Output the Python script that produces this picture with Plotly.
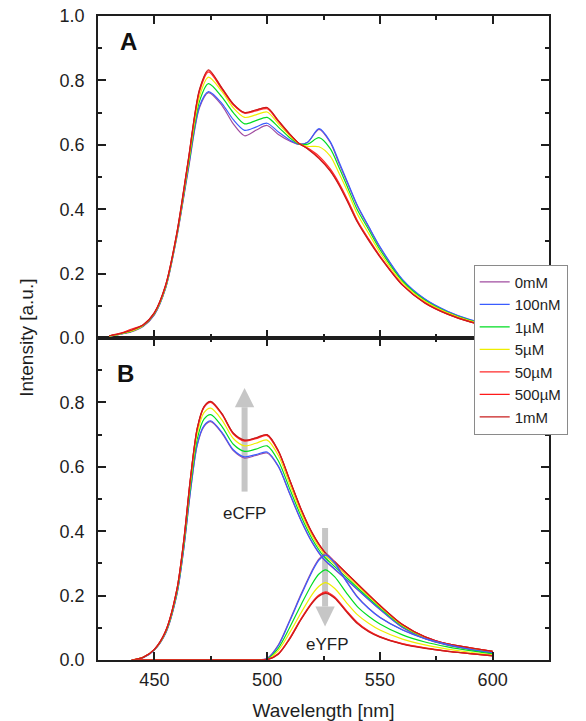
import plotly.graph_objects as go

# ---------------- data ----------------
series_names = ["0mM", "100nM", "1µM", "5µM", "50µM", "500µM", "1mM"]
series_colors = ["#a04ca0", "#3a5cff", "#00dd22", "#eeee00", "#ff2a2a", "#ff1a1a", "#c81e1e"]

# Panel A: measured spectra
wl_a = [430, 435, 440, 445, 450, 455, 460, 465, 470, 474, 480, 485, 490, 495, 500,
        505, 510, 514, 518, 523, 528, 532, 536, 540, 545, 550, 560, 570, 580, 590, 600]
a_0mM = [0.005, 0.012, 0.020, 0.036, 0.072, 0.155, 0.315, 0.520, 0.715, 0.762, 0.722, 0.665, 0.628, 0.645, 0.660,
         0.632, 0.612, 0.602, 0.608, 0.648, 0.607, 0.540, 0.475, 0.410, 0.345, 0.282, 0.180, 0.120, 0.082, 0.056, 0.040]
a_100nM = [0.006, 0.012, 0.021, 0.037, 0.073, 0.156, 0.317, 0.525, 0.720, 0.765, 0.728, 0.678, 0.645, 0.655, 0.667,
           0.640, 0.615, 0.602, 0.608, 0.650, 0.610, 0.545, 0.478, 0.412, 0.347, 0.284, 0.182, 0.121, 0.083, 0.057, 0.041]
a_1uM = [0.006, 0.013, 0.021, 0.038, 0.075, 0.158, 0.320, 0.532, 0.735, 0.790, 0.748, 0.700, 0.665, 0.675, 0.685,
         0.655, 0.622, 0.603, 0.602, 0.622, 0.588, 0.528, 0.463, 0.398, 0.337, 0.275, 0.177, 0.117, 0.080, 0.055, 0.039]
a_5uM = [0.006, 0.013, 0.022, 0.039, 0.076, 0.160, 0.322, 0.540, 0.750, 0.810, 0.765, 0.715, 0.685, 0.693, 0.702,
         0.665, 0.628, 0.604, 0.595, 0.594, 0.565, 0.510, 0.450, 0.385, 0.325, 0.266, 0.172, 0.114, 0.078, 0.053, 0.038]
a_50uM = [0.007, 0.014, 0.024, 0.040, 0.078, 0.163, 0.325, 0.548, 0.765, 0.826, 0.772, 0.724, 0.698, 0.705, 0.712,
          0.672, 0.632, 0.605, 0.590, 0.565, 0.525, 0.480, 0.425, 0.365, 0.308, 0.255, 0.166, 0.110, 0.075, 0.051, 0.036]
a_500uM = [0.007, 0.015, 0.028, 0.040, 0.078, 0.164, 0.327, 0.550, 0.770, 0.830, 0.775, 0.726, 0.700, 0.708, 0.715,
           0.674, 0.633, 0.605, 0.588, 0.560, 0.520, 0.476, 0.420, 0.362, 0.305, 0.253, 0.165, 0.109, 0.074, 0.050, 0.036]
a_1mM = [0.007, 0.014, 0.025, 0.041, 0.079, 0.165, 0.328, 0.552, 0.772, 0.833, 0.776, 0.727, 0.700, 0.708, 0.716,
         0.675, 0.634, 0.605, 0.587, 0.557, 0.518, 0.473, 0.418, 0.360, 0.303, 0.252, 0.164, 0.108, 0.074, 0.050, 0.035]

# Panel B: eCFP component
wl_c = [440, 445, 450, 455, 460, 463, 466, 469, 472, 475, 480, 485, 490, 495, 500,
        505, 510, 515, 520, 525, 530, 540, 550, 560, 570, 580, 590, 600]
c_0mM = [0.0, 0.007, 0.031, 0.083, 0.204, 0.343, 0.523, 0.667, 0.725, 0.740, 0.704, 0.650, 0.627, 0.635, 0.643,
         0.600, 0.516, 0.433, 0.364, 0.313, 0.281, 0.219, 0.157, 0.101, 0.066, 0.046, 0.034, 0.024]
c_100nM = [0.0, 0.007, 0.031, 0.084, 0.205, 0.345, 0.525, 0.670, 0.728, 0.743, 0.707, 0.653, 0.631, 0.638, 0.646,
           0.602, 0.518, 0.435, 0.366, 0.315, 0.283, 0.220, 0.158, 0.102, 0.067, 0.047, 0.035, 0.025]
c_1uM = [0.0, 0.008, 0.032, 0.086, 0.210, 0.353, 0.538, 0.686, 0.748, 0.762, 0.725, 0.670, 0.648, 0.655, 0.665,
         0.618, 0.532, 0.447, 0.376, 0.323, 0.290, 0.225, 0.162, 0.105, 0.069, 0.048, 0.036, 0.026]
c_5uM = [0.0, 0.008, 0.032, 0.088, 0.215, 0.362, 0.552, 0.703, 0.768, 0.782, 0.745, 0.688, 0.665, 0.673, 0.683,
         0.635, 0.546, 0.458, 0.385, 0.331, 0.297, 0.231, 0.166, 0.107, 0.070, 0.049, 0.037, 0.026]
c_50uM = [0.0, 0.008, 0.033, 0.090, 0.219, 0.368, 0.563, 0.717, 0.784, 0.800, 0.762, 0.702, 0.680, 0.687, 0.697,
          0.647, 0.558, 0.468, 0.393, 0.339, 0.304, 0.236, 0.169, 0.110, 0.072, 0.050, 0.038, 0.027]
c_500uM = [0.0, 0.008, 0.033, 0.090, 0.220, 0.369, 0.564, 0.719, 0.786, 0.802, 0.764, 0.704, 0.682, 0.689, 0.699,
           0.649, 0.559, 0.469, 0.394, 0.340, 0.305, 0.237, 0.170, 0.110, 0.072, 0.050, 0.038, 0.027]
c_1mM = [0.0, 0.008, 0.033, 0.090, 0.220, 0.370, 0.565, 0.720, 0.787, 0.803, 0.765, 0.705, 0.683, 0.690, 0.700,
         0.650, 0.560, 0.470, 0.395, 0.340, 0.305, 0.237, 0.170, 0.110, 0.072, 0.050, 0.038, 0.027]

# Panel B: eYFP component
wl_y = [440, 480, 495, 500, 505, 510, 515, 520, 523, 526, 530, 535, 540, 545, 550, 560, 570, 580, 590, 600]
y_0mM = [0, 0, 0, 0.005, 0.047, 0.123, 0.204, 0.279, 0.314, 0.330, 0.303, 0.247, 0.197, 0.161, 0.133, 0.094, 0.067, 0.048, 0.033, 0.022]
y_100nM = [0, 0, 0, 0.004, 0.045, 0.120, 0.200, 0.275, 0.310, 0.326, 0.300, 0.245, 0.195, 0.160, 0.132, 0.093, 0.066, 0.048, 0.033, 0.022]
y_1uM = [0, 0, 0, 0.003, 0.037, 0.101, 0.171, 0.237, 0.267, 0.280, 0.258, 0.210, 0.166, 0.136, 0.112, 0.078, 0.056, 0.041, 0.029, 0.019]
y_5uM = [0, 0, 0, 0.002, 0.030, 0.085, 0.146, 0.204, 0.229, 0.240, 0.222, 0.180, 0.141, 0.114, 0.093, 0.065, 0.047, 0.034, 0.024, 0.016]
y_50uM = [0, 0, 0, 0.001, 0.020, 0.068, 0.128, 0.180, 0.202, 0.212, 0.196, 0.155, 0.117, 0.091, 0.073, 0.051, 0.038, 0.028, 0.020, 0.014]
y_500uM = [0, 0, 0, 0.001, 0.019, 0.066, 0.126, 0.178, 0.200, 0.209, 0.193, 0.153, 0.115, 0.089, 0.072, 0.050, 0.037, 0.027, 0.020, 0.013]
y_1mM = [0, 0, 0, 0.001, 0.018, 0.065, 0.125, 0.177, 0.198, 0.207, 0.192, 0.151, 0.113, 0.088, 0.071, 0.049, 0.036, 0.027, 0.020, 0.013]

panel_a = [a_0mM, a_100nM, a_1uM, a_5uM, a_50uM, a_500uM, a_1mM]
panel_b_cfp = [c_0mM, c_100nM, c_1uM, c_5uM, c_50uM, c_500uM, c_1mM]
panel_b_yfp = [y_0mM, y_100nM, y_1uM, y_5uM, y_50uM, y_500uM, y_1mM]

x_ticks = [450, 500, 550, 600]
y_ticks_a = [0.0, 0.2, 0.4, 0.6, 0.8, 1.0]
y_ticks_b = [0.0, 0.2, 0.4, 0.6, 0.8]

# ---------------- figure ----------------
FONT = "Liberation Sans, Arial, sans-serif"
INK = "#1e1e1e"
LW = 1.2

fig = go.Figure()
for name, col, ya in zip(series_names, series_colors, panel_a):
    fig.add_trace(go.Scatter(x=wl_a, y=ya, mode="lines", name=name, legendgroup=name,
                             line=dict(color=col, width=LW, shape="spline", smoothing=0.8),
                             xaxis="x2", yaxis="y2", showlegend=True))
for name, col, yc in zip(series_names, series_colors, panel_b_cfp):
    fig.add_trace(go.Scatter(x=wl_c, y=yc, mode="lines", name=name, legendgroup=name,
                             line=dict(color=col, width=LW, shape="spline", smoothing=0.8),
                             xaxis="x", yaxis="y", showlegend=False))
for name, col, yy in zip(series_names, series_colors, panel_b_yfp):
    fig.add_trace(go.Scatter(x=wl_y, y=yy, mode="lines", name=name, legendgroup=name,
                             line=dict(color=col, width=LW, shape="spline", smoothing=0.8),
                             xaxis="x", yaxis="y", showlegend=False))

axis_common = dict(showline=True, linecolor=INK, linewidth=1.6, mirror="allticks",
                   ticks="inside", ticklen=8, tickwidth=1.5, tickcolor=INK,
                   showgrid=False, zeroline=False, automargin=False,
                   tickfont=dict(family=FONT, size=18, color=INK))

fig.update_layout(
    width=586, height=721,
    margin=dict(l=98, r=37, t=16, b=61),
    paper_bgcolor="white", plot_bgcolor="white",
    font=dict(family=FONT, color=INK),
    xaxis=dict(domain=[0, 1], range=[425, 625], anchor="y", tickvals=x_ticks,
               minor=dict(tickvals=[475, 525, 575], ticks="inside", ticklen=4, tickwidth=1.5, tickcolor=INK),
               title=dict(text="Wavelength [nm]", font=dict(family=FONT, size=19, color=INK), standoff=17),
               ticklabelstandoff=3, **axis_common),
    yaxis=dict(domain=[0, 0.5], range=[0, 1], anchor="x", tickvals=y_ticks_b, tickformat=".1f",
               minor=dict(tickvals=[0.1, 0.3, 0.5, 0.7, 0.9], ticks="inside", ticklen=4, tickwidth=1.5, tickcolor=INK),
               ticklabelstandoff=8, **axis_common),
    xaxis2=dict(domain=[0, 1], range=[425, 625], anchor="y2", matches="x", tickvals=x_ticks,
                showticklabels=False,
                minor=dict(tickvals=[475, 525, 575], ticks="inside", ticklen=4, tickwidth=1.5, tickcolor=INK),
                **axis_common),
    yaxis2=dict(domain=[0.5, 1], range=[0, 1], anchor="x2", tickvals=y_ticks_a, tickformat=".1f",
                minor=dict(tickvals=[0.1, 0.3, 0.5, 0.7, 0.9], ticks="inside", ticklen=4, tickwidth=1.5, tickcolor=INK),
                ticklabelstandoff=8, **axis_common),
    legend=dict(x=0.833, xanchor="left", y=0.614, yanchor="top",
                bgcolor="white", bordercolor="#8a8a8a", borderwidth=1,
                font=dict(family=FONT, size=15, color=INK), tracegroupgap=0),
    showlegend=True,
)

# y-axis title shared by both panels
fig.add_annotation(text="Intensity [a.u.]", xref="paper", yref="paper", x=-0.16, y=0.5,
                   textangle=-90, showarrow=False, xanchor="center", yanchor="middle",
                   font=dict(family=FONT, size=19, color=INK))
# panel letters
fig.add_annotation(text="<b>A</b>", xref="x2 domain", yref="y2 domain", x=0.067, y=0.921,
                   showarrow=False, xanchor="center", yanchor="middle",
                   font=dict(family=FONT, size=24, color="#111"))
fig.add_annotation(text="<b>B</b>", xref="x domain", yref="y domain", x=0.062, y=0.891,
                   showarrow=False, xanchor="center", yanchor="middle",
                   font=dict(family=FONT, size=24, color="#111"))
# labels
fig.add_annotation(text="eCFP", xref="x", yref="y", x=490, y=0.454, showarrow=False,
                   font=dict(family=FONT, size=17, color=INK))
fig.add_annotation(text="eYFP", xref="x", yref="y", x=526.6, y=0.047, showarrow=False,
                   font=dict(family=FONT, size=17, color=INK))

# gray arrows (drawn below the curves)
ARROW = "#c6c6c6"
cfp_x, cfp_tail, cfp_base, cfp_tip = 490, 0.523, 0.785, 0.845
yfp_x, yfp_tail, yfp_base, yfp_tip = 525.7, 0.41, 0.166, 0.104
half_w = 4.3
fig.add_shape(type="line", xref="x", yref="y", x0=cfp_x, x1=cfp_x, y0=cfp_tail, y1=cfp_base,
              line=dict(color=ARROW, width=6), layer="below")
fig.add_shape(type="path", xref="x", yref="y", layer="below", fillcolor=ARROW, line=dict(width=0),
              path=f"M {cfp_x-half_w} {cfp_base} L {cfp_x+half_w} {cfp_base} L {cfp_x} {cfp_tip} Z")
fig.add_shape(type="line", xref="x", yref="y", x0=yfp_x, x1=yfp_x, y0=yfp_tail, y1=yfp_base,
              line=dict(color=ARROW, width=6), layer="below")
fig.add_shape(type="path", xref="x", yref="y", layer="below", fillcolor=ARROW, line=dict(width=0),
              path=f"M {yfp_x-half_w} {yfp_base} L {yfp_x+half_w} {yfp_base} L {yfp_x} {yfp_tip} Z")

fig.write_html("out.html")
